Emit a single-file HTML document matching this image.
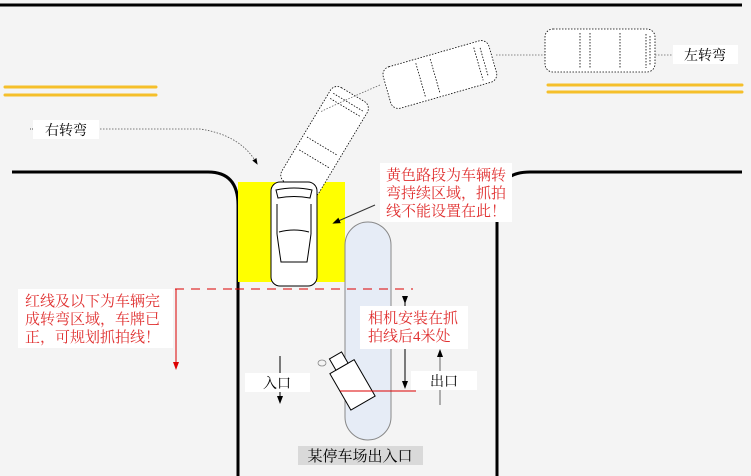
<!DOCTYPE html>
<html><head><meta charset="utf-8"><style>
body{margin:0;background:#f4f4f4}
svg{display:block}
text{font-family:"Liberation Serif","Noto Serif CJK SC","Noto Sans CJK SC",serif}
</style></head><body>
<svg width="751" height="476" viewBox="0 0 751 476" xmlns="http://www.w3.org/2000/svg">
<defs>
<marker id="ab" markerWidth="8" markerHeight="8" refX="4" refY="4" orient="auto"><path d="M0,1 L8,4 L0,7z" fill="#000"/></marker>
<marker id="ar" markerWidth="8" markerHeight="8" refX="4" refY="4" orient="auto"><path d="M0,1 L8,4 L0,7z" fill="#d00"/></marker>
<g id="car">
<rect x="-23" y="-52" width="46" height="104" rx="9" fill="#fff"/>
<path d="M-18,-44 Q0,-48 18,-44 L16,-36 Q0,-39 -16,-36Z M-17,-30 L-17,0 M17,-30 L17,0 M-15,-2 Q0,-6 15,-2 M-17,0 Q-15,15 -13,28 L13,28 Q15,15 17,0" fill="none"/>
</g>
</defs>
<rect width="751" height="476" fill="#f4f4f4"/>
<line x1="0" y1="5" x2="742" y2="5" stroke="#000" stroke-width="3"/>
<g stroke="#f5bf2a" stroke-width="3" stroke-linecap="round">
<line x1="5" y1="87" x2="156" y2="87"/><line x1="5" y1="95" x2="156" y2="95"/>
<line x1="548" y1="85" x2="742" y2="85"/><line x1="548" y1="92" x2="742" y2="92"/>
</g>
<path d="M12,172 L208,172 Q238,172 238,205 L238,476" fill="none" stroke="#000" stroke-width="3"/>
<path d="M742,172 L530,172 Q497,172 497,205 L497,476" fill="none" stroke="#000" stroke-width="3"/>
<rect x="238" y="182" width="107" height="100" fill="#ff0"/>
<g fill="#fff" stroke="#000" stroke-width="0.8" stroke-dasharray="1.5,1.5">
<g transform="translate(600,51)"><rect x="-55" y="-22" width="110" height="43" rx="8"/><path d="M-20,-18 L-20,18 M-10,-18 L-10,18 M20,-18 L20,18 M46,-17 L46,17 M50,-15 L50,15"/></g>
<g transform="translate(440,75) rotate(-16)"><rect x="-55" y="-22" width="110" height="43" rx="8"/><path d="M-20,-18 L-20,18 M-5,-18 L-5,18 M40,-17 L40,17 M46,-15 L46,15"/></g>
<g transform="translate(325,142) rotate(31)"><rect x="-22" y="-55" width="43" height="110" rx="8"/><path d="M-18,-46 L18,-46 M-18,-40 L18,-40 M-18,5 L18,5 M-18,20 L18,20"/></g>
</g>
<path d="M380,85 Q345,100 320,112" fill="none" stroke="#666" stroke-width="0.8" stroke-dasharray="1.5,1.5"/>
<line x1="496" y1="55" x2="545" y2="55" stroke="#666" stroke-width="0.8" stroke-dasharray="1.5,1.5"/>
<line x1="655" y1="55" x2="673" y2="55" stroke="#666" stroke-width="0.8" stroke-dasharray="1.5,1.5"/>
<g transform="translate(294,234)" stroke="#000" stroke-width="1"><use href="#car"/></g>
<path d="M100,129 L200,129 Q240,135 256,162" fill="none" stroke="#555" stroke-width="0.8" stroke-dasharray="1.5,1.5" marker-end="url(#ab)"/>
<line x1="30" y1="129" x2="33" y2="129" stroke="#555" stroke-dasharray="1,1"/>
<rect x="33" y="120" width="66" height="19" fill="#fff"/>
<text x="66" y="135" font-size="14" text-anchor="middle">右转弯</text>
<rect x="673" y="45" width="65" height="19" fill="#fff"/>
<text x="705" y="60" font-size="14" text-anchor="middle">左转弯</text>
<rect x="345" y="222" width="46" height="218" rx="23" fill="#e6ecf6" stroke="#888" stroke-width="1"/>
<line x1="375" y1="205" x2="336" y2="222" stroke="#333" stroke-width="1" marker-end="url(#ab)"/>
<rect x="380" y="163" width="132" height="59" fill="#fff"/>
<g font-size="15" fill="#e03030"><text x="386" y="180">黄色路段为车辆转</text><text x="386" y="198">弯持续区域，抓拍</text><text x="386" y="216">线不能设置在此！</text></g>
<line x1="235" y1="289" x2="413" y2="289" stroke="#d00" stroke-width="1" stroke-dasharray="9,7"/>
<line x1="175" y1="289" x2="235" y2="289" stroke="#d00" stroke-width="1" stroke-dasharray="9,7"/>
<line x1="176" y1="289" x2="176" y2="366" stroke="#d00" stroke-width="1" marker-end="url(#ar)"/>
<rect x="18" y="289" width="155" height="59" fill="#fff"/>
<g font-size="15" fill="#e03030"><text x="25" y="306">红线及以下为车辆完</text><text x="25" y="324">成转弯区域，车牌已</text><text x="25" y="342">正，可规划抓拍线！</text></g>
<g transform="translate(352,384) rotate(-30)" fill="#fff" stroke="#000" stroke-width="1">
<rect x="-14" y="-20" width="28" height="42"/><rect x="-7" y="-33" width="14" height="13"/>
</g>
<ellipse cx="322" cy="363" rx="4" ry="3" fill="none" stroke="#888" stroke-width="0.8"/>
<line x1="340" y1="391" x2="416" y2="391" stroke="#d00" stroke-width="1"/>
<line x1="405" y1="300" x2="405" y2="385" stroke="#000" stroke-width="1" marker-start="url(#ab)" marker-end="url(#ab)"/>
<rect x="360" y="306" width="108" height="43" fill="#fff"/>
<g font-size="15" fill="#e03030"><text x="368" y="323">相机安装在抓</text><text x="368" y="341">拍线后4米处</text></g>
<line x1="440" y1="405" x2="440" y2="353" stroke="#666" stroke-width="1" marker-end="url(#ab)"/>
<rect x="411" y="371" width="66" height="19" fill="#fff"/>
<text x="444" y="386" font-size="14" text-anchor="middle">出口</text>
<line x1="280" y1="356" x2="280" y2="400" stroke="#000" stroke-width="1" marker-end="url(#ab)"/>
<rect x="245" y="373" width="65" height="19" fill="#fff"/>
<text x="277" y="388" font-size="14" text-anchor="middle">入口</text>
<rect x="298" y="446" width="125" height="19" fill="#d9d9d9"/>
<text x="360" y="461" font-size="15" text-anchor="middle">某停车场出入口</text>
</svg>
</body></html>
